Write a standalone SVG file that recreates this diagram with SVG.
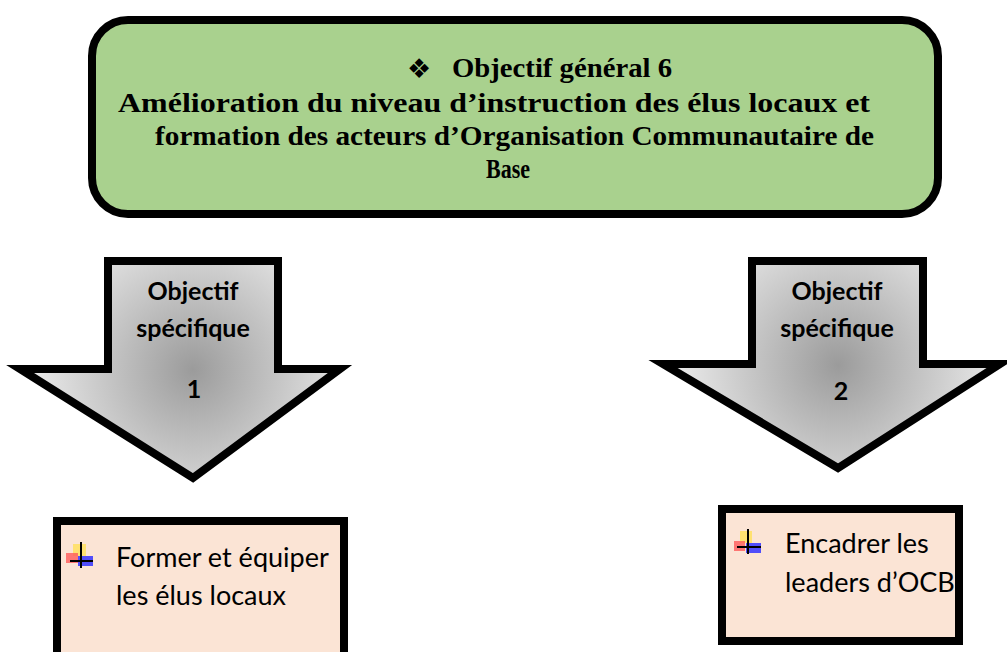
<svg xmlns="http://www.w3.org/2000/svg" width="1007" height="652" viewBox="0 0 1007 652">
<defs>
<radialGradient id="g1" gradientUnits="userSpaceOnUse" cx="193" cy="370" r="170">
<stop offset="0" stop-color="#9b9b9b"/><stop offset="1" stop-color="#efefef"/>
</radialGradient>
<radialGradient id="g2" gradientUnits="userSpaceOnUse" cx="838" cy="365" r="170">
<stop offset="0" stop-color="#9b9b9b"/><stop offset="1" stop-color="#efefef"/>
</radialGradient>
</defs>
<style>
.title{font-family:"Liberation Serif","Times New Roman",serif;font-weight:bold;font-size:28px;fill:#000}
.sym{font-family:"DejaVu Sans",sans-serif;font-size:27px;fill:#000;text-anchor:middle}
.alab{font-family:Lato,"Open Sans",sans-serif;font-weight:bold;font-size:25px;fill:#000;text-anchor:middle}
.btxt{font-family:Lato,"Open Sans",sans-serif;font-size:27px;fill:#000}
.arrow{stroke:#000;stroke-width:8;stroke-linejoin:miter}
.box{fill:#fbe4d5;stroke:#000;stroke-width:8}
</style>
<g id="top">
<rect x="92" y="20" width="846" height="194" rx="36" ry="36" fill="#a9d18e" stroke="#000" stroke-width="8"/>
<text class="sym" x="419" y="78">❖</text>
<text class="title" x="452" y="77" textLength="220" lengthAdjust="spacingAndGlyphs">Objectif général 6</text>
<text class="title" x="118" y="112" textLength="752" lengthAdjust="spacingAndGlyphs">Amélioration du niveau d’instruction des élus locaux et</text>
<text class="title" x="155" y="145" textLength="719" lengthAdjust="spacingAndGlyphs">formation des acteurs d’Organisation Communautaire de</text>
<text class="title" x="486" y="178" textLength="44" lengthAdjust="spacingAndGlyphs">Base</text>
</g>
<g id="connectors">
<g id="arrow1">
<path class="arrow" fill="url(#g1)" d="M108,261 L278,261 L278,369 L340,369 L193,478 L20,369 L108,369 Z"/>
<text class="alab" x="193" y="300">Objectif</text>
<text class="alab" x="193" y="337">spécifique</text>
<text class="alab" x="194" y="398">1</text>
</g>
<g id="arrow2">
<path class="arrow" fill="url(#g2)" d="M752,261 L923,261 L923,364 L1000,364 L838,468 L663,364 L752,364 Z"/>
<text class="alab" x="837" y="300">Objectif</text>
<text class="alab" x="837" y="337">spécifique</text>
<text class="alab" x="841" y="400">2</text>
</g>
</g>
<g id="box1">
<rect class="box" x="57" y="521" width="287" height="145"/>
<g>
<rect x="73" y="544" width="13" height="12" fill="#ffe066" opacity="0.9"/>
<rect x="66" y="553" width="12" height="10" fill="#ff5a5a" opacity="0.8"/>
<rect x="78" y="556" width="15" height="10" fill="#3333ff" opacity="0.85"/>
<line x1="81" y1="542" x2="81" y2="568" stroke="#000" stroke-width="2"/>
<line x1="70" y1="561" x2="93" y2="561" stroke="#000" stroke-width="2"/>
</g>
<text class="btxt" x="116" y="567">Former et équiper</text>
<text class="btxt" x="116" y="605">les élus locaux</text>
</g>
<g id="box2">
<rect class="box" x="722" y="509" width="237" height="132"/>
<g>
<rect x="740" y="531" width="12" height="12" fill="#ffe066" opacity="0.9"/>
<rect x="734" y="541" width="11" height="10" fill="#ff5a5a" opacity="0.8"/>
<rect x="746" y="543" width="15" height="10" fill="#3333ff" opacity="0.85"/>
<line x1="748" y1="529" x2="748" y2="554" stroke="#000" stroke-width="2"/>
<line x1="737" y1="547" x2="761" y2="547" stroke="#000" stroke-width="2"/>
</g>
<text class="btxt" x="785" y="553" font-size="26.5">Encadrer les</text>
<text class="btxt" x="785" y="592" font-size="26.5">leaders d’OCB</text>
</g>
</svg>
